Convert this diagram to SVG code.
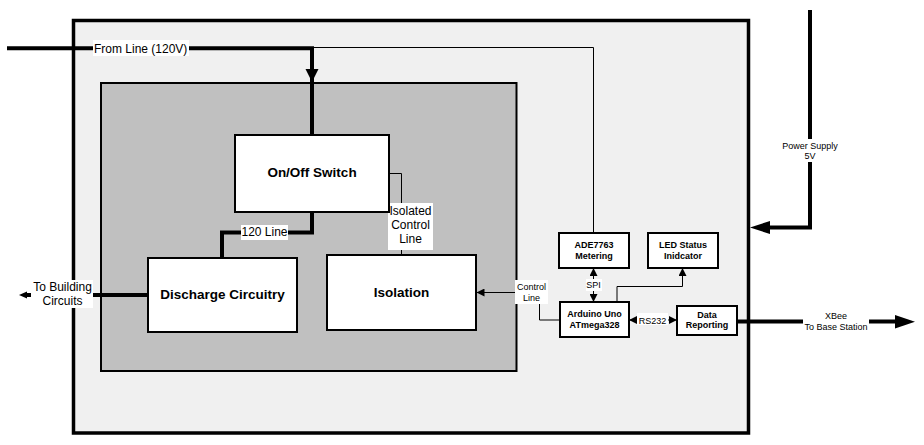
<svg xmlns="http://www.w3.org/2000/svg" width="924" height="445" viewBox="0 0 924 445">
<defs>
<style>
text{font-family:"Liberation Sans",Arial,sans-serif;fill:#000}
.big{font-size:13.5px;font-weight:bold;text-anchor:middle}
.sm{font-size:9px;font-weight:bold;text-anchor:middle}
.t12{font-size:12px}
.t9{font-size:9px;text-anchor:middle}
.c{text-anchor:middle}
.box{fill:#fff;stroke:#000;stroke-width:2}
.thick{fill:none;stroke:#000;stroke-width:4}
.thin{fill:none;stroke:#000;stroke-width:1}
.bg{fill:#fff}
.head{fill:#000}
</style>
<marker id="ah" viewBox="0 0 8 8" refX="8" refY="4" markerWidth="8" markerHeight="8" markerUnits="userSpaceOnUse" orient="auto-start-reverse">
<path d="M0,0 L8,4 L0,8 z" fill="#000"/>
</marker>
</defs>
<rect width="924" height="445" fill="#fff"/>

<g id="enclosure">
<rect x="73.5" y="20.5" width="675" height="412.5" fill="#f0f0f0" stroke="#000" stroke-width="3.5"/>
</g>
<g id="power-section">
<rect x="101" y="83" width="415.5" height="288" fill="#c0c0c0" stroke="#000" stroke-width="2"/>
</g>

<g id="connectors">
<!-- From line -->
<path class="thick" d="M7,48.3 H312 V135"/>
<polygon class="head" points="305.5,69 318.5,69 312,82"/>
<path class="thin" d="M312,47.5 H593.5 V233"/>
<rect class="bg" x="93" y="40" width="96" height="16"/>
<text class="t12" x="94" y="53">From Line (120V)</text>
<!-- 120 Line -->
<path class="thick" d="M312,212 V232.5 H222 V258"/>
<rect class="bg" x="241" y="225" width="47" height="15"/>
<text class="t12 c" x="264.5" y="235.5">120 Line</text>
<!-- Isolated control line -->
<path class="thin" d="M389,173.5 H401.5 V255"/>
<rect class="bg" x="388" y="203" width="45" height="47"/>
<text class="t12 c" x="410.5" y="215">Isolated</text>
<text class="t12 c" x="410.5" y="229">Control</text>
<text class="t12 c" x="410.5" y="243">Line</text>
<!-- To building circuits -->
<path class="thick" d="M148,295 H26"/>
<polygon class="head" points="19,295 27,291.5 27,298.5"/>
<rect class="bg" x="31" y="280" width="62" height="28"/>
<text class="t12 c" x="62.5" y="291">To Building</text>
<text class="t12 c" x="62.5" y="305">Circuits</text>
<!-- Control line -->
<path class="thin" d="M560,320 H539.5 V292.5 H476.5" marker-end="url(#ah)"/>
<rect class="bg" x="515" y="280" width="33" height="24"/>
<text class="t9" x="531.5" y="289.5">Control</text>
<text class="t9" x="531.5" y="300.5">Line</text>
<!-- SPI -->
<path class="thin" d="M593.5,268 V302" marker-start="url(#ah)" marker-end="url(#ah)"/>
<rect class="bg" x="586" y="279" width="16" height="12"/>
<text class="t9" x="593.5" y="288">SPI</text>
<!-- LED -->
<path class="thin" d="M617,302 V286.5 H682.5 V268" marker-end="url(#ah)"/>
<!-- RS232 -->
<path class="thin" d="M629,320 H677" marker-start="url(#ah)" marker-end="url(#ah)"/>
<rect class="bg" x="637" y="313" width="31" height="12"/>
<text class="t9" x="652.5" y="323.5">RS232</text>
<!-- XBee -->
<path class="thick" d="M737,321.5 H896"/>
<polygon class="head" points="895,315 895,328.5 915,321.75"/>
<rect class="bg" x="803" y="308" width="66" height="25"/>
<text class="t9" x="836" y="318.5">XBee</text>
<text class="t9" x="836" y="330">To Base Station</text>
<!-- Power supply -->
<path class="thick" d="M810,10 V227.5 H769"/>
<polygon class="head" points="770,221 770,234 750,227.5"/>
<rect class="bg" x="780" y="139" width="60" height="23"/>
<text class="t9" x="810" y="148.5">Power Supply</text>
<text class="t9" x="810" y="158.5">5V</text>
</g>

<g id="on-off-switch">
<rect class="box" x="235" y="135" width="154" height="77"/>
<text class="big" x="312" y="177">On/Off Switch</text>
</g>
<g id="discharge-circuitry">
<rect class="box" x="148" y="258" width="149" height="74"/>
<text class="big" x="222.5" y="299">Discharge Circuitry</text>
</g>
<g id="isolation">
<rect class="box" x="327" y="255" width="149" height="75"/>
<text class="big" x="401.5" y="297">Isolation</text>
</g>
<g id="ade7763">
<rect class="box" x="559" y="233" width="70" height="35"/>
<text class="sm" x="594" y="247.5">ADE7763</text>
<text class="sm" x="594" y="259">Metering</text>
</g>
<g id="led-status">
<rect class="box" x="648" y="233" width="70" height="35"/>
<text class="sm" x="683" y="247.5">LED Status</text>
<text class="sm" x="683" y="258.5">Inidcator</text>
</g>
<g id="arduino">
<rect class="box" x="560" y="302" width="69" height="35"/>
<text class="sm" x="594.5" y="316.5">Arduino Uno</text>
<text class="sm" x="594.5" y="327.5">ATmega328</text>
</g>
<g id="data-reporting">
<rect class="box" x="677" y="306" width="60" height="29"/>
<text class="sm" x="707" y="317.5">Data</text>
<text class="sm" x="707" y="328">Reporting</text>
</g>
</svg>
